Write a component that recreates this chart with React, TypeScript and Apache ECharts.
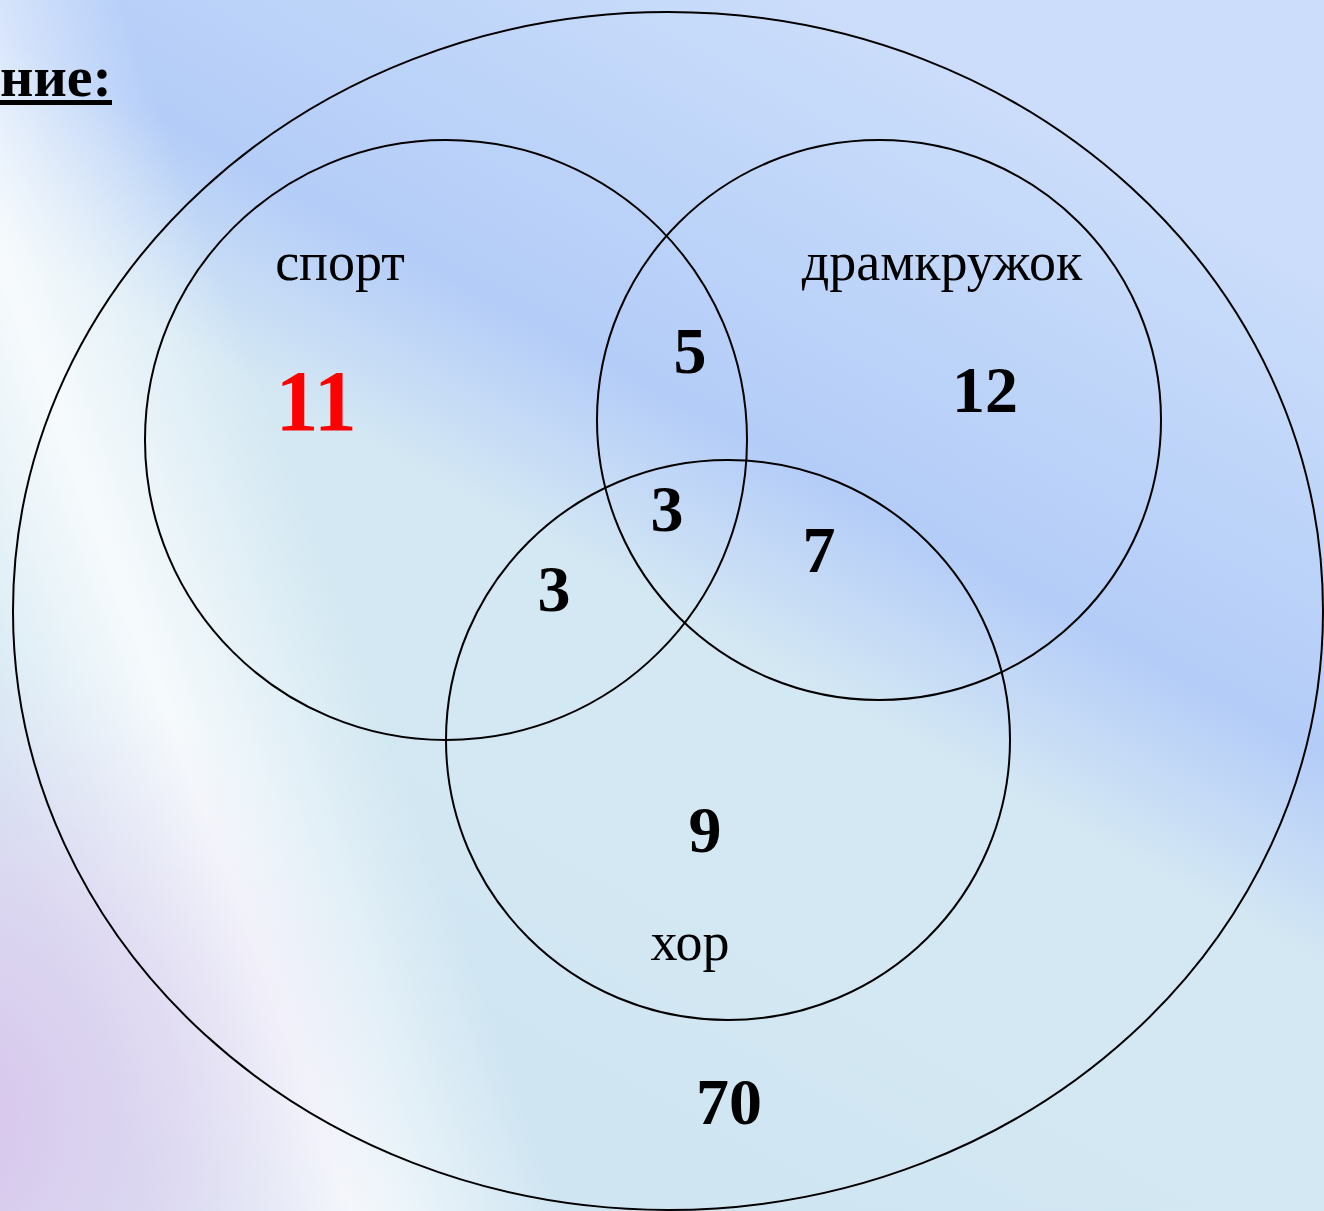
import React, { useEffect, useRef } from "react";
import * as echarts from "echarts";

// ---- data ----
const heading = "ние:";
const setNames = ["спорт", "драмкружок", "хор"];
const regionNames = [
  "только спорт",
  "только драмкружок",
  "только хор",
  "спорт и драмкружок",
  "все три",
  "драмкружок и хор",
  "спорт и хор",
  "ни одного",
];
const regionCounts = [11, 12, 9, 5, 3, 7, 3, 70];

// ---- layout (positions in the hidden 1324 x 1211 coordinate space) ----
const W = 1324;
const H = 1211;
const universeShape = [668, 611, 655, 599];
const setShapes = [
  [446, 440, 301, 300],
  [879, 420, 282, 280],
  [728, 740, 282, 280],
];
const setLabelPos = [
  [340, 262],
  [942, 262],
  [690, 942],
];
const regionLabelPos = [
  [316, 401],
  [985, 389],
  [705, 829],
  [690, 350],
  [667, 508],
  [819, 549],
  [554, 588],
  [729, 1101],
];
const regionFontSize = [86, 66, 66, 66, 66, 66, 66, 66];
const regionColor = ["#ff0000", "#000", "#000", "#000", "#000", "#000", "#000", "#000"];

const SERIF = "'Liberation Serif', 'Times New Roman', serif";

export default function App() {
  const ref = useRef<HTMLDivElement>(null);

  useEffect(() => {
    if (!ref.current) return;
    const chart = echarts.init(ref.current, undefined, { renderer: "svg" });

    const shapes = [universeShape, ...setShapes];
    const labelData = [
      ...setNames.map((n, i) => [setLabelPos[i][0], setLabelPos[i][1], 0, i]),
      ...regionCounts.map((v, i) => [regionLabelPos[i][0], regionLabelPos[i][1], 1, i]),
    ];

    const bgRect = (z: number, fill: any) => ({
      type: "rect",
      z,
      silent: true,
      shape: { x: 0, y: 0, width: W, height: H },
      style: { fill },
    });

    const option: any = {
      animation: false,
      backgroundColor: "#c6daf8",
      grid: { left: 0, right: 0, top: 0, bottom: 0 },
      xAxis: { type: "value", min: 0, max: W, show: false },
      yAxis: { type: "value", min: 0, max: H, inverse: true, show: false },
      graphic: [
        bgRect(-10, {
          type: "linear",
          x: 1000,
          y: 100,
          x2: 472,
          y2: 1068,
          global: true,
          colorStops: [
            { offset: 0, color: "#cbddfa" },
            { offset: 0.2, color: "#bed5f9" },
            { offset: 0.38, color: "#b4cdf8" },
            { offset: 0.46, color: "#c3d9f6" },
            { offset: 0.55, color: "#d4e8f3" },
            { offset: 0.75, color: "#d3e8f2" },
            { offset: 1, color: "#cfe5f2" },
          ],
        }),
        bgRect(-9, {
          type: "linear",
          x: -13,
          y: 799,
          x2: 363,
          y2: 661,
          global: true,
          colorStops: [
            { offset: 0, color: "rgba(255,255,255,0)" },
            { offset: 0.5, color: "rgba(255,255,255,0.8)" },
            { offset: 1, color: "rgba(255,255,255,0)" },
          ],
        }),
        bgRect(-8, {
          type: "radial",
          x: -80,
          y: 1120,
          r: 480,
          global: true,
          colorStops: [
            { offset: 0, color: "rgba(214,190,234,0.95)" },
            { offset: 0.55, color: "rgba(226,208,240,0.6)" },
            { offset: 1, color: "rgba(236,226,246,0)" },
          ],
        }),
        {
          type: "text",
          z: 100,
          style: {
            text: heading,
            x: 0,
            y: 76,
            align: "left",
            verticalAlign: "middle",
            fontFamily: SERIF,
            fontWeight: "bold",
            fontSize: 58,
            fill: "#000",
          },
        },
        {
          type: "rect",
          z: 100,
          shape: { x: 0, y: 100, width: 112, height: 5 },
          style: { fill: "#000" },
        },
      ],
      series: [
        {
          type: "custom",
          name: "circles",
          coordinateSystem: "cartesian2d",
          silent: true,
          data: shapes,
          renderItem: (params: any, api: any) => {
            const c = api.coord([api.value(0), api.value(1)]);
            const s = api.size([api.value(2), api.value(3)]);
            return {
              type: "ellipse",
              shape: { cx: c[0], cy: c[1], rx: s[0], ry: s[1] },
              style: { fill: "none", stroke: "#000", lineWidth: 2 },
            };
          },
        },
        {
          type: "custom",
          name: "labels",
          coordinateSystem: "cartesian2d",
          silent: true,
          data: labelData,
          renderItem: (params: any, api: any) => {
            const c = api.coord([api.value(0), api.value(1)]);
            const kind = api.value(2);
            const idx = api.value(3);
            const isSet = kind === 0;
            return {
              type: "text",
              x: c[0],
              y: c[1],
              style: {
                text: isSet ? setNames[idx] : String(regionCounts[idx]),
                align: "center",
                verticalAlign: "middle",
                fontFamily: SERIF,
                fontWeight: isSet ? "normal" : "bold",
                fontSize: isSet ? 54 : regionFontSize[idx],
                fill: isSet ? "#000" : regionColor[idx],
              },
            };
          },
        },
      ],
    };

    chart.setOption(option);
    return () => chart.dispose();
  }, []);

  return (
    <div
      ref={ref}
      style={{ position: "absolute", left: 0, top: 0, width: W, height: H }}
      aria-label={regionNames.join(", ")}
    />
  );
}
